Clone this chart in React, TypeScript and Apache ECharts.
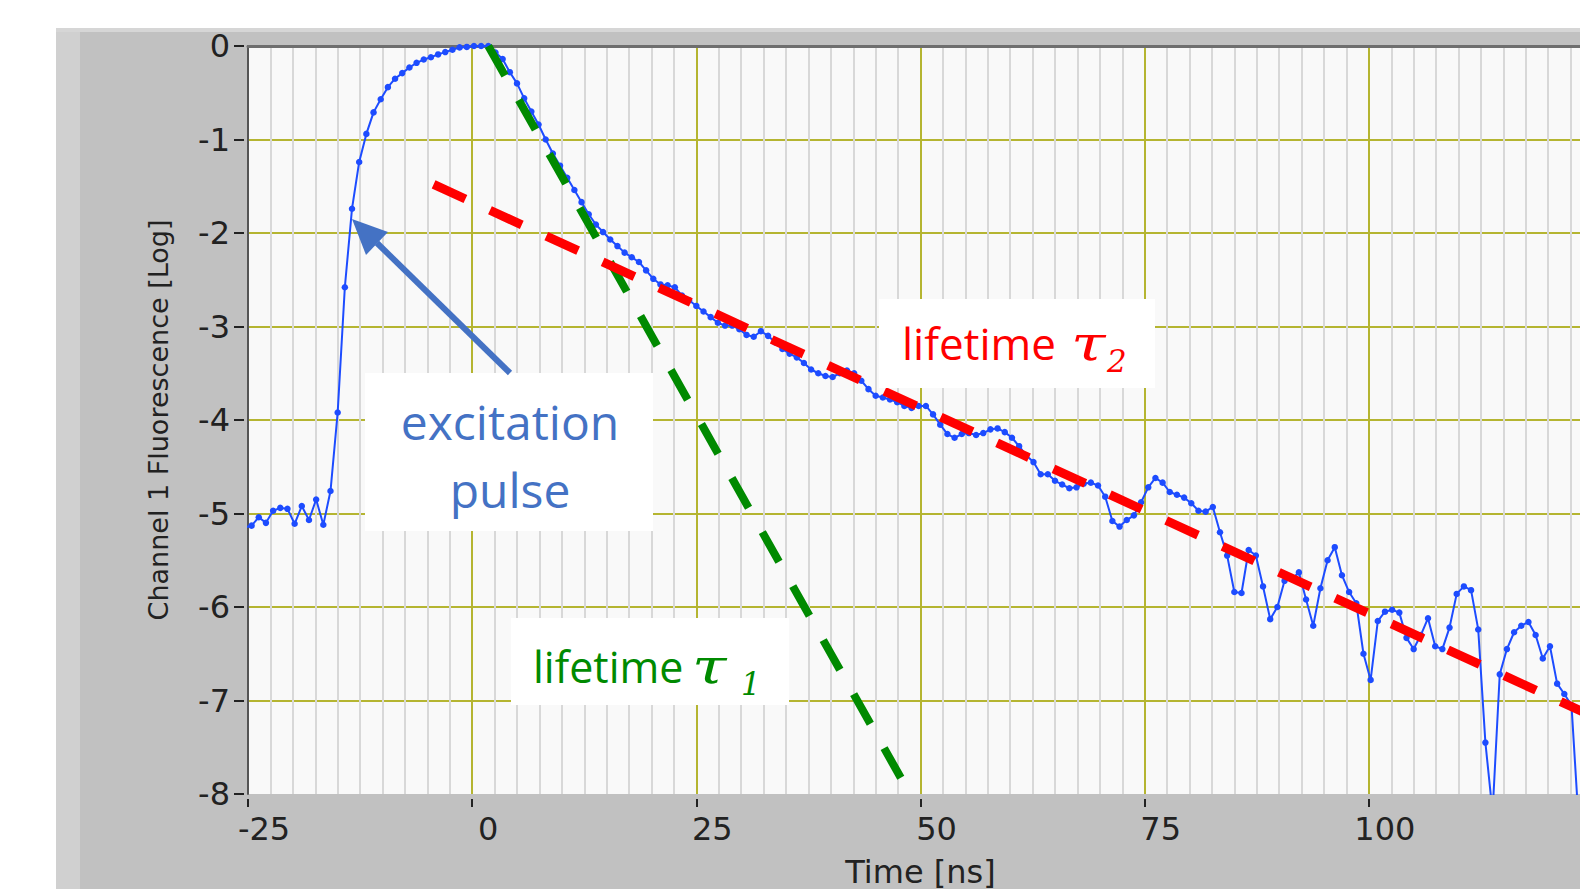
import React, { useEffect, useRef } from "react";
import * as echarts from "echarts";

// ---- data ----
const TIME_START = -25.4; // ns, first sample
const TIME_STEP = 0.8; // ns between samples
const FLUOR_LOG = [
  -5.15, -5.13, -5.04, -5.1, -4.97, -4.94, -4.95, -5.11, -4.92, -5.07,
  -4.85, -5.12, -4.76, -3.92, -2.58, -1.74, -1.24, -0.94, -0.71, -0.57,
  -0.44, -0.35, -0.29, -0.23, -0.18, -0.145, -0.12, -0.09, -0.065, -0.04,
  -0.015, -0.01, 0, 0, 0, -0.07, -0.14, -0.28, -0.4, -0.56,
  -0.7, -0.84, -1.0, -1.15, -1.28, -1.41, -1.54, -1.67, -1.8, -1.91,
  -1.99, -2.07, -2.14, -2.21, -2.26, -2.31, -2.4, -2.49, -2.55, -2.56,
  -2.58, -2.67, -2.72, -2.78, -2.84, -2.9, -2.96, -2.99, -2.99, -3.03,
  -3.09, -3.11, -3.05, -3.1, -3.17, -3.24, -3.29, -3.33, -3.39, -3.46,
  -3.5, -3.53, -3.54, -3.5, -3.47, -3.5, -3.58, -3.67, -3.74, -3.76,
  -3.78, -3.81, -3.85, -3.87, -3.85, -3.85, -3.94, -4.05, -4.15, -4.19,
  -4.15, -4.14, -4.16, -4.14, -4.1, -4.09, -4.13, -4.19, -4.28, -4.38,
  -4.45, -4.58, -4.58, -4.65, -4.69, -4.73, -4.72, -4.68, -4.67, -4.7,
  -4.82, -5.08, -5.14, -5.07, -5.02, -4.88, -4.72, -4.62, -4.67, -4.77,
  -4.8, -4.83, -4.89, -4.97, -4.98, -4.93, -5.2, -5.45, -5.84, -5.85,
  -5.39, -5.45, -5.78, -6.13, -6.0, -5.72, -5.7, -5.63, -5.92, -6.2,
  -5.8, -5.5, -5.36, -5.66, -5.84, -5.96, -6.5, -6.78, -6.15, -6.05,
  -6.03, -6.06, -6.33, -6.45, -6.3, -6.12, -6.42, -6.45, -6.22, -5.86,
  -5.78, -5.82, -6.24, -7.45, -8.2, -6.72, -6.45, -6.27, -6.2, -6.16,
  -6.3, -6.55, -6.42, -6.82, -6.93, -7.05, -8.3, -8.3, -8.3,
];

// fitted lifetime lines (start / end)
const TAU1_T = [1.8, 48.0];
const TAU1_V = [0, -7.86];
const TAU2_T = [-4.3, 125];
const TAU2_V = [-1.48, -7.17];

// axes
const X_MIN = -25;
const X_MAX = 125;
const X_STEP = 25;
const Y_MIN = -8;
const Y_MAX = 0;
const Y_STEP = 1;

const X_NAME = "Time [ns]";
const Y_NAME = "Channel 1 Fluorescence [Log]";

const BLUE = "#1d4cff";
const NOTE_BLUE = "#4472C4";
const RED = "#ff0000";
const GREEN = "#008a00";
const GRID_MAJOR = "#b5b531";
const GRID_MINOR = "#d8d8d8";
const LABEL = "#222222";

export default function App() {
  const ref = useRef<HTMLDivElement>(null);

  useEffect(() => {
    if (!ref.current) return;
    const chart = echarts.init(ref.current, undefined, { renderer: "svg" });

    const curve = FLUOR_LOG.map((v, i) => [TIME_START + i * TIME_STEP, v]);
    const tau1 = TAU1_T.map((t, i) => [t, TAU1_V[i]]);
    const tau2 = TAU2_T.map((t, i) => [t, TAU2_V[i]]);

    const ann = (extra: any) => ({ z: 100, silent: true, ...extra });

    chart.setOption({
      animation: false,
      backgroundColor: "#ffffff",
      grid: {
        left: 248,
        top: 46,
        width: 1345,
        height: 748,
        show: true,
        backgroundColor: "#f9f9f9",
        borderWidth: 0,
        containLabel: false,
        outerBoundsMode: "none",
      },
      xAxis: [
        {
          type: "value",
          min: X_MIN,
          max: X_MAX,
          interval: X_STEP,
          position: "bottom",
          offset: 5,
          axisLine: { show: false, onZero: false },
          axisTick: { show: true, length: 8, lineStyle: { color: LABEL, width: 2 } },
          axisLabel: {
            color: LABEL,
            fontFamily: "DejaVu Sans",
            fontSize: 32,
            margin: 14,
            padding: [0, 0, 0, 32],
          },
          splitLine: { show: true, lineStyle: { color: GRID_MAJOR, width: 2 } },
          minorTick: { show: false, splitNumber: 10 },
          minorSplitLine: { show: true, lineStyle: { color: GRID_MINOR, width: 2 } },
          name: X_NAME,
          nameLocation: "middle",
          nameGap: 57,
          nameTextStyle: { color: LABEL, fontFamily: "DejaVu Sans", fontSize: 32 },
        },
        {
          type: "value",
          min: X_MIN,
          max: X_MAX,
          position: "top",
          axisLine: { show: true, onZero: false, lineStyle: { color: "#6e6e6e", width: 3 } },
          axisTick: { show: false },
          axisLabel: { show: false },
          splitLine: { show: false },
        },
      ],
      yAxis: [
        {
          type: "value",
          min: Y_MIN,
          max: Y_MAX,
          interval: Y_STEP,
          position: "left",
          offset: 4,
          axisLine: { show: false, onZero: false },
          axisTick: { show: true, length: 10, lineStyle: { color: LABEL, width: 2 } },
          axisLabel: {
            color: LABEL,
            fontFamily: "DejaVu Sans",
            fontSize: 32,
            margin: 14,
          },
          splitLine: {
            show: true,
            showMinLine: false,
            lineStyle: { color: GRID_MAJOR, width: 2 },
          },
        },
        {
          type: "value",
          min: Y_MIN,
          max: Y_MAX,
          position: "left",
          axisLine: { show: true, onZero: false, lineStyle: { color: "#555555", width: 2 } },
          axisTick: { show: false },
          axisLabel: { show: false },
          splitLine: { show: false },
          name: Y_NAME,
          nameLocation: "middle",
          nameGap: 76,
          nameTextStyle: { color: LABEL, fontFamily: "DejaVu Sans", fontSize: 27 },
        },
      ],
      series: [
        {
          type: "line",
          xAxisIndex: 0,
          yAxisIndex: 0,
          data: curve,
          symbol: "circle",
          symbolSize: 6.5,
          showSymbol: true,
          showAllSymbol: true,
          lineStyle: { color: BLUE, width: 2 },
          itemStyle: { color: BLUE },
          clip: true,
          silent: true,
          z: 3,
        },
        {
          type: "line",
          xAxisIndex: 0,
          yAxisIndex: 0,
          data: tau1,
          symbol: "none",
          lineStyle: { color: GREEN, width: 8, type: [34, 28] },
          clip: true,
          silent: true,
          z: 4,
        },
        {
          type: "line",
          xAxisIndex: 0,
          yAxisIndex: 0,
          data: tau2,
          symbol: "none",
          lineStyle: { color: RED, width: 9, type: [35, 27] },
          clip: true,
          silent: true,
          z: 4,
        },
      ],
      graphic: [
        // instrument panel background
        { type: "rect", z: -10, silent: true, shape: { x: 56, y: 28, width: 1524, height: 861 }, style: { fill: "#c1c1c1" } },
        { type: "rect", z: -9, silent: true, shape: { x: 56, y: 28, width: 24, height: 861 }, style: { fill: "#d0d0d0" } },
        { type: "rect", z: -9, silent: true, shape: { x: 56, y: 28, width: 1524, height: 4 }, style: { fill: "#d6d6d6" } },

        // excitation pulse note
        ann({ type: "rect", shape: { x: 365, y: 373, width: 288, height: 158 }, style: { fill: "#ffffff" } }),
        ann({ type: "text", x: 510, y: 421, style: { text: "excitation", fill: NOTE_BLUE, font: "48px 'Open Sans'", align: "center", verticalAlign: "middle" } }),
        ann({ type: "text", x: 510, y: 489, style: { text: "pulse", fill: NOTE_BLUE, font: "48px 'Open Sans'", align: "center", verticalAlign: "middle" } }),
        ann({ type: "line", shape: { x1: 510, y1: 373, x2: 377, y2: 243 }, style: { stroke: NOTE_BLUE, lineWidth: 6 } }),
        ann({ type: "polygon", shape: { points: [[352, 219], [366, 255], [388, 232]] }, style: { fill: NOTE_BLUE } }),

        // lifetime tau2 note
        ann({ type: "rect", shape: { x: 879, y: 299, width: 276, height: 89 }, style: { fill: "#ffffff" } }),
        ann({ type: "text", x: 902, y: 343, style: { text: "lifetime", fill: RED, font: "44px 'Open Sans'", align: "left", verticalAlign: "middle" } }),
        ann({ type: "text", x: 1071, y: 343, scaleX: 1.3, style: { text: "τ", fill: RED, font: "italic 48px 'DejaVu Serif'", align: "left", verticalAlign: "middle" } }),
        ann({ type: "text", x: 1107, y: 361, style: { text: "2", fill: RED, font: "italic 31px 'DejaVu Serif'", align: "left", verticalAlign: "middle" } }),

        // lifetime tau1 note
        ann({ type: "rect", shape: { x: 511, y: 618, width: 278, height: 87 }, style: { fill: "#ffffff" } }),
        ann({ type: "text", x: 533, y: 666, style: { text: "lifetime", fill: GREEN, font: "43px 'Open Sans'", align: "left", verticalAlign: "middle" } }),
        ann({ type: "text", x: 692, y: 666, scaleX: 1.3, style: { text: "τ", fill: GREEN, font: "italic 48px 'DejaVu Serif'", align: "left", verticalAlign: "middle" } }),
        ann({ type: "text", x: 741, y: 684, style: { text: "1", fill: GREEN, font: "italic 31px 'DejaVu Serif'", align: "left", verticalAlign: "middle" } }),
      ],
    });

    return () => chart.dispose();
  }, []);

  return (
    <div
      style={{
        position: "fixed",
        left: 0,
        top: 0,
        width: 1580,
        height: 889,
        overflow: "hidden",
        background: "#ffffff",
      }}
    >
      <div ref={ref} style={{ width: 1580, height: 889 }} />
    </div>
  );
}
